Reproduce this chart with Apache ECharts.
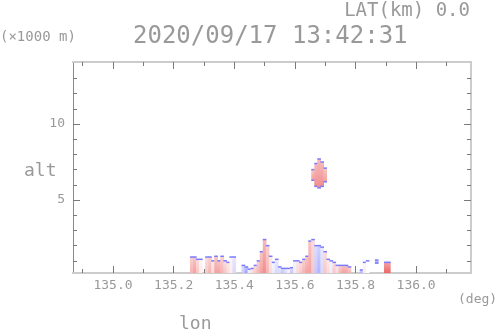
<!DOCTYPE html>
<html>
<head>
    <meta charset="UTF-8">
    <title>RHI 2020/09/17 13:42:31</title>
    <script src="https://cdn.jsdelivr.net/npm/echarts@6/dist/echarts.min.js"></script>
</head>
<body style="margin: 0;padding: 0;background: #fff;">
    <div id="container" style="width:498px; height:336px;"></div>
    <script>
        // tick labels
        var xTicks = [135.0, 135.2, 135.4, 135.6, 135.8, 136.0];
        var xMinor = [134.9, 135.1, 135.3, 135.5, 135.7, 135.9, 136.1];
        var yTicks = [5, 10];
        var yMinor = [1, 2, 3, 4, 6, 7, 8, 9, 11, 12, 13];

        // echo columns: centre lon (deg), base alt / top alt (x1000 m), value (-1 blue .. +1 red)
        var colLon = [135.26, 135.27, 135.28, 135.29,
            135.31, 135.32, 135.33, 135.34, 135.35, 135.36, 135.37, 135.38, 135.39, 135.40,
            135.43, 135.44, 135.45, 135.46, 135.47, 135.48, 135.49, 135.50, 135.51, 135.52,
            135.53, 135.54, 135.55, 135.56, 135.57, 135.58, 135.59, 135.60, 135.61, 135.62,
            135.63, 135.64, 135.65, 135.66, 135.67, 135.68, 135.69, 135.70, 135.71, 135.72,
            135.73, 135.74, 135.75, 135.76, 135.77, 135.78, 135.82, 135.83, 135.84, 135.87,
            135.90, 135.91,
            135.66, 135.67, 135.68, 135.69, 135.70];
        var colBase = [0.2, 0.2, 0.2, 0.2,
            0.2, 0.2, 0.2, 0.2, 0.2, 0.2, 0.2, 0.2, 0.2, 0.2,
            0.2, 0.2, 0.2, 0.2, 0.2, 0.2, 0.2, 0.2, 0.2, 0.2,
            0.2, 0.2, 0.2, 0.2, 0.2, 0.2, 0.2, 0.2, 0.2, 0.2,
            0.2, 0.2, 0.2, 0.2, 0.2, 0.2, 0.2, 0.2, 0.2, 0.2,
            0.2, 0.2, 0.2, 0.2, 0.2, 0.2, 0.2, 0.2, 0.2, 0.85,
            0.2, 0.2,
            6.3, 5.9, 5.8, 5.9, 6.2];
        var colTop = [1.25, 1.25, 1.1, 1.1,
            1.25, 1.25, 1.0, 1.3, 1.0, 1.3, 1.0, 0.9, 1.25, 1.25,
            0.7, 0.6, 0.45, 0.5, 0.7, 1.0, 1.6, 2.4, 2.0, 1.3,
            0.9, 1.1, 0.6, 0.5, 0.5, 0.5, 0.55, 1.0, 1.0, 0.9,
            1.1, 1.3, 2.3, 2.4, 2.0, 2.0, 1.9, 1.6, 1.1, 1.0,
            0.9, 0.7, 0.7, 0.7, 0.7, 0.6, 0.4, 0.9, 1.0, 1.05,
            0.9, 0.9,
            7.0, 7.4, 7.7, 7.5, 7.1];
        var colVal = [0.4, 0.5, 0.3, 0.1,
            0.3, 0.4, 0.2, 0.5, 0.5, 0.4, 0.3, 0.2, 0.1, -0.2,
            -0.3, -0.5, -0.1, 0.2, 0.3, 0.4, 0.5, 0.6, 0.4, 0.2,
            -0.1, -0.2, -0.2, -0.3, -0.2, 0.1, -0.3, -0.1, 0.2, 0.3,
            0.4, 0.5, 0.5, 0.3, -0.3, -0.4, -0.2, 0.3, 0.2, -0.1,
            0.3, 0.2, 0.4, 0.5, 0.5, 0.4, -0.4, 0.1, 0.0, -0.5,
            0.8, 0.8,
            0.5, 0.6, 0.6, 0.6, 0.5];

        var binW = 0.01;

        function toHex(v) {
            v = Math.max(0, Math.min(255, Math.round(v))).toString(16);
            return v.length == 1 ? "0" + v : v;
        }

        // blue - white - red
        function colormap(v) {
            var r = 255, g = 255, b = 255;
            if (v >= 0) {
                g = 255 - 190 * v;
                b = 255 - 190 * v;
                r = 255 - 25 * v;
            } else {
                r = 255 + 190 * v;
                g = 255 + 190 * v;
            }
            return "#" + toHex(r) + toHex(g) + toHex(b);
        }

        var data = colLon.map((x, i) => [x, colBase[i], colTop[i], colVal[i]]);

        var textColor = '#999999';
        var frameColor = '#cccccc';
        var tickColor = '#7a7a7a';
        var mono = '"DejaVu Sans Mono"';

        function renderColumn(params, api) {
            var lon = api.value(0), lo = api.value(1), hi = api.value(2), v = api.value(3);
            var p0 = api.coord([lon - binW / 2, hi]);
            var p1 = api.coord([lon + binW / 2, lo]);
            var w = p1[0] - p0[0], h = p1[1] - p0[1];
            var children = [{
                type: 'rect',
                shape: { x: p0[0] - 0.3, y: p0[1], width: w + 0.6, height: h },
                style: {
                    fill: new echarts.graphic.LinearGradient(0, 0, 0, 1, [
                        { offset: 0, color: colormap(v * 0.6) },
                        { offset: 1, color: colormap(v) }
                    ])
                }
            }, {
                type: 'line',
                shape: { x1: p0[0] - 0.3, y1: p0[1], x2: p0[0] + w + 0.3, y2: p0[1] },
                style: { stroke: '#7a7aff', lineWidth: 1.5 }
            }];
            if (lo > 0.3) {
                children.push({
                    type: 'line',
                    shape: { x1: p0[0] - 0.3, y1: p1[1], x2: p0[0] + w + 0.3, y2: p1[1] },
                    style: { stroke: '#7a7aff', lineWidth: 1.5 }
                });
            }
            return { type: 'group', children: children };
        }

        function xAxisDef(pos, ticks, len, labels) {
            return {
                type: 'value', position: pos, min: 134.868, max: 136.181,
                axisLine: { show: true, onZero: false, lineStyle: { color: frameColor, width: 2 } },
                axisTick: { show: true, inside: true, length: len, customValues: ticks,
                    lineStyle: { color: tickColor, width: 1 } },
                axisLabel: labels ? {
                    show: true, customValues: ticks, margin: 6, color: textColor,
                    fontFamily: mono, fontSize: 13,
                    formatter: (v) => v.toFixed(1)
                } : { show: false },
                splitLine: { show: false }
            };
        }

        function yAxisDef(pos, ticks, len, labels, lineColor, lineWidth) {
            return {
                type: 'value', position: pos, min: 0.2, max: 14.08,
                axisLine: { show: true, onZero: false, lineStyle: { color: lineColor, width: lineWidth } },
                axisTick: { show: true, inside: true, length: len, customValues: ticks,
                    lineStyle: { color: tickColor, width: 1 } },
                axisLabel: labels ? {
                    show: true, customValues: ticks, margin: 8, color: textColor,
                    fontFamily: mono, fontSize: 13
                } : { show: false },
                splitLine: { show: false }
            };
        }

        var chart = echarts.init(document.getElementById('container'), null, { renderer: 'canvas' });
        var option = {
            animation: false,
            backgroundColor: '#ffffff',
            grid: { left: 73, right: 27, top: 62, bottom: 63 },
            xAxis: [
                xAxisDef('bottom', xTicks, 7, true),
                xAxisDef('bottom', xMinor, 4, false),
                xAxisDef('top', xTicks, 7, false),
                xAxisDef('top', xMinor, 4, false)
            ],
            yAxis: [
                yAxisDef('left', yTicks, 7, true, '#8a8a8a', 1),
                yAxisDef('left', yMinor, 4, false, '#8a8a8a', 1),
                yAxisDef('right', yTicks, 7, false, frameColor, 2),
                yAxisDef('right', yMinor, 4, false, frameColor, 2)
            ],
            series: [{
                type: 'custom',
                renderItem: renderColumn,
                data: data,
                clip: true,
                z: 1
            }],
            graphic: [
                { type: 'text', right: 28, top: 2,
                  style: { text: 'LAT(km) 0.0', fill: textColor, font: '19px ' + mono } },
                { type: 'text', left: 133, top: 25,
                  style: { text: '2020/09/17 13:42:31', fill: textColor, font: '24px ' + mono } },
                { type: 'text', left: 0, top: 30,
                  style: { text: '(\u00d71000 m)', fill: textColor, font: '14px ' + mono } },
                { type: 'text', left: 458, top: 293,
                  style: { text: '(deg)', fill: textColor, font: '13px ' + mono } },
                { type: 'text', left: 179, top: 315,
                  style: { text: 'lon', fill: textColor, font: '18px ' + mono } },
                { type: 'text', left: 24, top: 162,
                  style: { text: 'alt', fill: textColor, font: '18px ' + mono } }
            ]
        };
        chart.setOption(option);
    </script>
</body>
</html>
